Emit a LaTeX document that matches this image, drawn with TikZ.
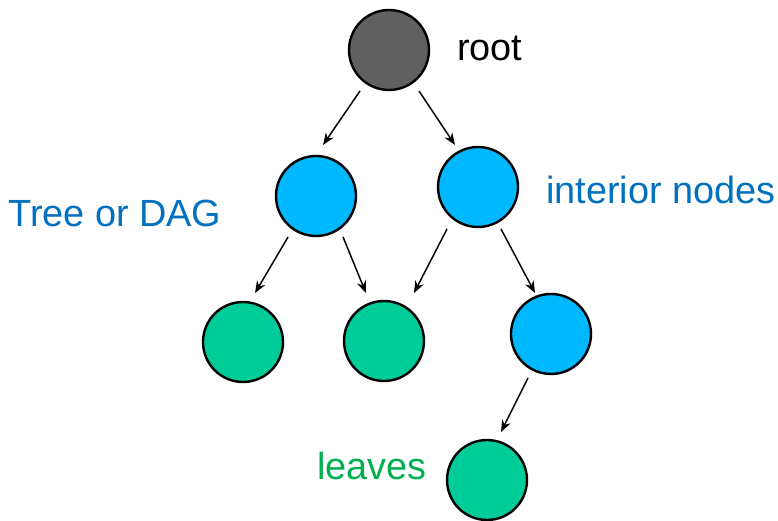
\documentclass[tikz,border=0pt]{standalone}
\usepackage{fontspec}
\setmainfont{Liberation Sans}
\usetikzlibrary{calc,arrows.meta}
\definecolor{rootgray}{RGB}{96,96,96}
\definecolor{intblue}{RGB}{0,184,255}
\definecolor{leafgreen}{RGB}{0,204,153}
\definecolor{txtblue}{RGB}{0,112,192}
\definecolor{txtgreen}{RGB}{0,176,80}
\begin{document}
\begin{tikzpicture}[x=0.75pt,y=0.75pt,
  vtx/.style={circle,draw=black,line width=1.8pt,minimum size=60pt,inner sep=0pt},
  rootv/.style={vtx,fill=rootgray},
  intv/.style={vtx,fill=intblue},
  leafv/.style={vtx,fill=leafgreen},
  arr/.style={line width=1.1pt,-{Stealth[length=9pt,width=7pt]}},
  lbl/.style={inner sep=0pt,anchor=base west,font=\fontsize{28.4pt}{31pt}\selectfont}
]
\useasboundingbox (0,0) rectangle (778,521);
\node[rootv] (root) at (389,471) {};
\node[intv]  (L)    at (316,325) {};
\node[intv]  (R)    at (478,334) {};
\node[leafv] (A)    at (243,179) {};
\node[leafv] (B)    at (384,180) {};
\node[intv]  (I3)   at (551,187) {};
\node[leafv] (C)    at (487,41)  {};

\draw[arr] ($(root)+(234.7:50.2)$) -- ($(L)+(82.2:51.5)$);
\draw[arr] ($(root)+(306.2:50.8)$) -- ($(R)+(118.7:47.9)$);
\draw[arr] ($(L)+(235.7:49.6)$) -- ($(A)+(76.2:50.4)$);
\draw[arr] ($(L)+(303.4:49.1)$) -- ($(B)+(110.6:51.3)$);
\draw[arr] ($(R)+(233.6:52.2)$) -- ($(B)+(58:56.6)$);
\draw[arr] ($(R)+(298.7:47.9)$) -- ($(I3)+(111.3:44)$);
\draw[arr] ($(I3)+(242.4:49.6)$) -- ($(C)+(73.7:50)$);

\node[lbl,text=black]    (troot) at (457,460) {root};
\node[lbl,text=txtblue]  (ttree) at (8,294)   {Tree or DAG};
\node[lbl,text=txtblue]  (tint)  at (546,317) {interior nodes};
\node[lbl,text=txtgreen] (tleaf) at (317,41)  {leaves};
\end{tikzpicture}
\end{document}
